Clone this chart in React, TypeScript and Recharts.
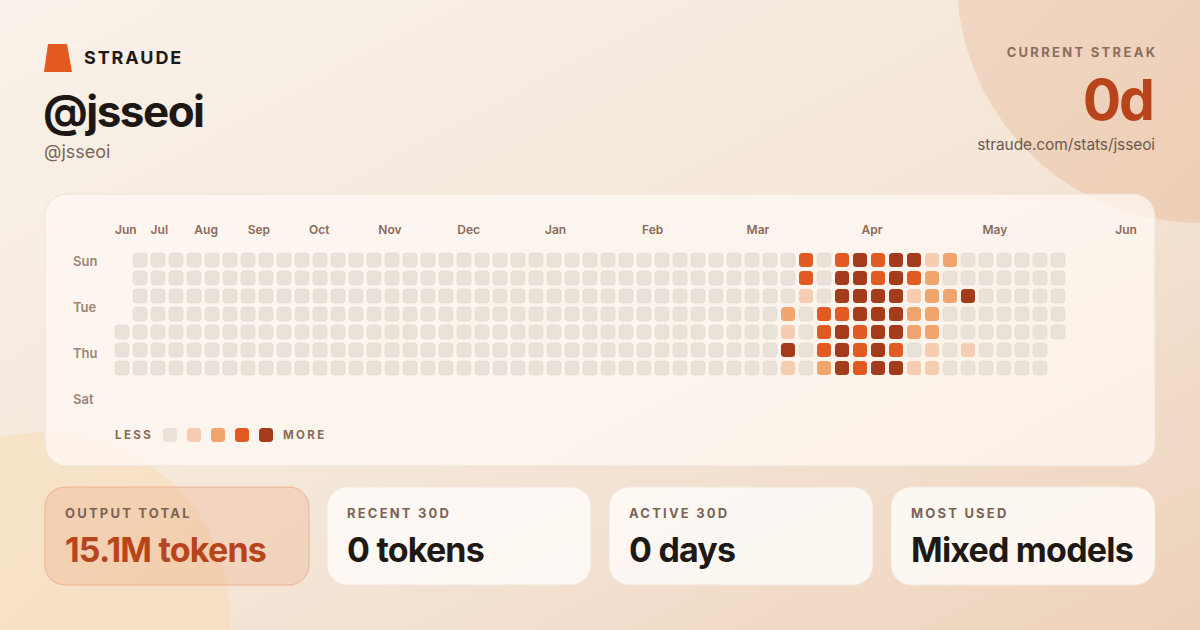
import React from "react";
import { ScatterChart, Scatter, XAxis, YAxis } from "recharts";

// ---- data ----
const monthLabels = ["Jun", "Jul", "Aug", "Sep", "Oct", "Nov", "Dec", "Jan", "Feb", "Mar", "Apr", "May", "Jun"];
const monthTickWeeks = [-0.39, 1.59, 4.02, 6.98, 10.39, 14.24, 18.63, 23.5, 28.89, 34.7, 41.09, 47.8, 55.18];
const dayLabels = ["Sun", "Tue", "Thu", "Sat"];
const dayTickRows = [0.09, 2.62, 5.18, 7.75];

const totalWeeks = 53;
const firstWeekStartDay = 4; // first column starts at row 4
const lastWeekEndDay = 4; // last column ends at row 4
const activeWeekStart = 37; // columns 37..47 carry activity
const sunLevels = [0, 3, 0, 3, 4, 3, 4, 4, 1, 2, 0];
const monLevels = [0, 3, 0, 4, 4, 3, 4, 3, 2, 0, 0];
const tueLevels = [0, 1, 0, 4, 4, 4, 4, 1, 2, 2, 4];
const wedLevels = [2, 0, 3, 3, 4, 4, 4, 2, 2, 0, 0];
const thuLevels = [1, 0, 3, 4, 3, 4, 4, 2, 2, 0, 0];
const friLevels = [4, 0, 3, 4, 3, 4, 3, 0, 1, 0, 1];
const satLevels = [1, 0, 2, 4, 3, 4, 4, 1, 1, 0, 0];
const dayRows = [sunLevels, monLevels, tueLevels, wedLevels, thuLevels, friLevels, satLevels];

const levelColors = ["#e9e2d8", "#f6cdb0", "#f0a46e", "#e05a22", "#a43c1c"];

const stats = [
  { label: "OUTPUT TOTAL", value: "15.1M tokens", accent: true },
  { label: "RECENT 30D", value: "0 tokens", accent: false },
  { label: "ACTIVE 30D", value: "0 days", accent: false },
  { label: "MOST USED", value: "Mixed models", accent: false },
];

type CellDatum = { week: number; day: number; level: number };
const cells: CellDatum[] = [];
for (let w = 0; w < totalWeeks; w++) {
  for (let d = 0; d < 7; d++) {
    if (w === 0 && d < firstWeekStartDay) continue;
    if (w === totalWeeks - 1 && d > lastWeekEndDay) continue;
    const idx = w - activeWeekStart;
    const row = dayRows[d];
    const level = idx >= 0 && idx < row.length ? row[idx] : 0;
    cells.push({ week: w, day: d, level });
  }
}

const FONT = "Inter, 'Noto Sans', sans-serif";

const CellShape = (props: any) => {
  const { cx, cy, payload } = props;
  if (cx == null || cy == null) return null;
  const lvl = payload?.level ?? 0;
  return (
    <rect
      x={cx - 7}
      y={cy - 7}
      width={14}
      height={14}
      rx={3.5}
      ry={3.5}
      fill={levelColors[lvl]}
      stroke={lvl === 0 ? "#e1d8cd" : "none"}
      strokeWidth={lvl === 0 ? 0.6 : 0}
    />
  );
};

const MonthTick = (props: any) => {
  const { x, y, index } = props;
  return (
    <text x={x} y={y} dy={-17} textAnchor="start" fontFamily={FONT} fontSize={12} fontWeight={600} fill="#8a6a58">
      {monthLabels[index]}
    </text>
  );
};

const DayTick = (props: any) => {
  const { x, y, index } = props;
  return (
    <text x={x - 40} y={y} dy={4.7} textAnchor="start" fontFamily={FONT} fontSize={13} fontWeight={600} fill="#a08573">
      {dayLabels[index]}
    </text>
  );
};

export default function App() {
  const cardX = [45, 327, 609, 891];
  return (
    <div style={{ position: "fixed", left: 0, top: 0, width: 1200, height: 630, overflow: "hidden" }}>
      <svg width={1200} height={630} style={{ position: "absolute", left: 0, top: 0 }}>
        <defs>
          <linearGradient id="bg" x1="0" y1="0" x2="1" y2="1">
            <stop offset="0" stopColor="#f9f2ea" />
            <stop offset="0.55" stopColor="#f4e6d8" />
            <stop offset="1" stopColor="#eed2bb" />
          </linearGradient>
          <linearGradient id="circTR" x1="0" y1="0" x2="1" y2="1">
            <stop offset="0" stopColor="#f2dac7" />
            <stop offset="1" stopColor="#edcbb2" />
          </linearGradient>
          <linearGradient id="circBL" x1="0" y1="0" x2="1" y2="1">
            <stop offset="0" stopColor="#f7e4c9" />
            <stop offset="1" stopColor="#f4dec4" />
          </linearGradient>
        </defs>
        <rect x={0} y={0} width={1200} height={630} fill="url(#bg)" />
        <circle cx={1200} cy={-20} r={243} fill="url(#circTR)" />
        <circle cx={45} cy={617} r={185} fill="url(#circBL)" />

        {/* heatmap card */}
        <rect x={45} y={194} width={1110} height={272} rx={22} fill="#fffaf5" fillOpacity={0.72} stroke="#eee2d6" />

        {/* stat cards */}
        {stats.map((s, i) => (
          <g key={s.label}>
            <rect
              x={cardX[i]}
              y={487}
              width={264}
              height={98}
              rx={20}
              fill={s.accent ? "#ec8c5a" : "#fffcf9"}
              fillOpacity={s.accent ? 0.2 : 0.85}
              stroke={s.accent ? "#eeb290" : "#f1e6db"}
            />
            <text x={cardX[i] + 20} y={518} fontFamily={FONT} fontSize={13} fontWeight={700} letterSpacing={2.2} fill="#7a6356">
              {s.label}
            </text>
            <text
              x={cardX[i] + 20}
              y={562}
              fontFamily={FONT}
              fontSize={34}
              fontWeight={700}
              letterSpacing={-0.8}
              fill={s.accent ? "#b8441c" : "#1e1915"}
            >
              {s.value}
            </text>
          </g>
        ))}

        {/* header */}
        <polygon points="48,44 67,44 72,72 44,72" fill="#e35a21" />
        <text x={84} y={64} fontFamily={FONT} fontSize={18} fontWeight={700} letterSpacing={1.9} fill="#1f1915">
          STRAUDE
        </text>
        <text x={43} y={127} fontFamily={FONT} fontSize={44} fontWeight={700} letterSpacing={-1.5} fill="#1d1814">
          @jsseoi
        </text>
        <text x={44} y={158} fontFamily={FONT} fontSize={18} fontWeight={400} fill="#7a665a">
          @jsseoi
        </text>
        <text x={1157.3} y={57} textAnchor="end" fontFamily={FONT} fontSize={13} fontWeight={700} letterSpacing={2.3} fill="#8b6d5c">
          CURRENT STREAK
        </text>
        <text x={1153} y={120} textAnchor="end" fontFamily={FONT} fontSize={57} fontWeight={700} letterSpacing={-2} fill="#b8441c">
          0d
        </text>
        <text x={1155} y={150} textAnchor="end" fontFamily={FONT} fontSize={15.5} fontWeight={400} letterSpacing={-0.1} fill="#6d5a4e">
          straude.com/stats/jsseoi
        </text>

        {/* legend */}
        <text x={115} y={439} fontFamily={FONT} fontSize={11.5} fontWeight={700} letterSpacing={2.4} fill="#8a6a58">
          LESS
        </text>
        {levelColors.map((c, i) => (
          <rect key={c} x={163 + i * 24} y={428} width={14} height={14} rx={3.5} fill={c} />
        ))}
        <text x={283} y={439} fontFamily={FONT} fontSize={11.5} fontWeight={700} letterSpacing={2.4} fill="#8a6a58">
          MORE
        </text>
      </svg>

      <div style={{ position: "absolute", left: 0, top: 0 }}>
        <ScatterChart width={1200} height={630} margin={{ top: 221, right: 79, bottom: 226, left: 73 }}>
          <XAxis
            type="number"
            dataKey="week"
            orientation="top"
            height={30}
            domain={[-0.5, 55.5]}
            ticks={monthTickWeeks}
            interval={0}
            tick={<MonthTick />}
            tickLine={false}
            axisLine={false}
            tickSize={0}
            tickMargin={0}
            allowDataOverflow
          />
          <YAxis
            type="number"
            dataKey="day"
            width={40}
            reversed
            domain={[-0.5, 8]}
            ticks={dayTickRows}
            interval={0}
            tick={<DayTick />}
            tickLine={false}
            axisLine={false}
            tickSize={0}
            tickMargin={0}
            allowDataOverflow
          />
          <Scatter data={cells} shape={<CellShape />} isAnimationActive={false} />
        </ScatterChart>
      </div>
    </div>
  );
}
